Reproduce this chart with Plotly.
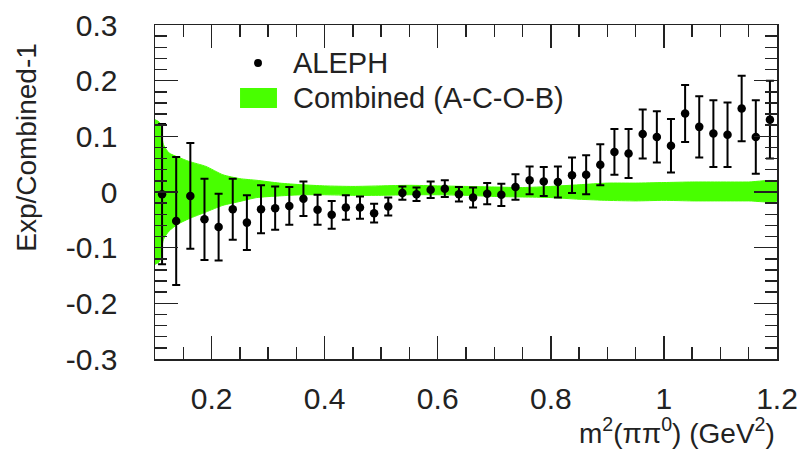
import plotly.graph_objects as go

# ALEPH data points
m2 = [0.1125, 0.1375, 0.1625, 0.1875, 0.2125, 0.2375, 0.2625, 0.2875, 0.3125, 0.3375,
      0.3625, 0.3875, 0.4125, 0.4375, 0.4625, 0.4875, 0.5125, 0.5375, 0.5625, 0.5875,
      0.6125, 0.6375, 0.6625, 0.6875, 0.7125, 0.7375, 0.7625, 0.7875, 0.8125, 0.8375,
      0.8625, 0.8875, 0.9125, 0.9375, 0.9625, 0.9875, 1.0125, 1.0375, 1.0625, 1.0875,
      1.1125, 1.1375, 1.1625, 1.1875]
aleph = [-0.004, -0.052, -0.007, -0.049, -0.063, -0.031, -0.055, -0.031, -0.029, -0.025,
         -0.012, -0.032, -0.041, -0.028, -0.028, -0.038, -0.026, -0.002, -0.004, 0.004,
         0.006, -0.004, -0.010, -0.003, -0.005, 0.009, 0.021, 0.019, 0.018, 0.030,
         0.031, 0.049, 0.072, 0.069, 0.104, 0.099, 0.083, 0.141, 0.117, 0.105,
         0.103, 0.150, 0.099, 0.130]
aleph_err = [0.126, 0.115, 0.095, 0.073, 0.060, 0.055, 0.049, 0.043, 0.039, 0.034,
             0.031, 0.027, 0.025, 0.022, 0.020, 0.017, 0.016, 0.012, 0.012, 0.015,
             0.015, 0.013, 0.018, 0.019, 0.020, 0.023, 0.025, 0.026, 0.028, 0.032,
             0.035, 0.037, 0.041, 0.044, 0.044, 0.046, 0.048, 0.051, 0.055, 0.060,
             0.058, 0.059, 0.066, 0.070]

# Combined (A-C-O-B) uncertainty band
band_x = [0.100, 0.108, 0.115, 0.125, 0.140, 0.160, 0.190, 0.220, 0.250, 0.280,
          0.320, 0.360, 0.400, 0.450, 0.500, 0.550, 0.600, 0.650, 0.700, 0.750,
          0.800, 0.850, 0.900, 0.950, 1.000, 1.050, 1.100, 1.150, 1.200]
band_hi = [0.130, 0.125, 0.085, 0.070, 0.063, 0.055, 0.046, 0.031, 0.024, 0.021,
           0.016, 0.013, 0.011, 0.010, 0.011, 0.012, 0.011, 0.010, 0.009, 0.008,
           0.010, 0.013, 0.016, 0.016, 0.017, 0.018, 0.018, 0.018, 0.019]
band_lo = [-0.130, -0.125, -0.085, -0.070, -0.058, -0.048, -0.036, -0.024, -0.017, -0.010,
           -0.007, -0.005, -0.005, -0.006, -0.006, -0.005, -0.005, -0.006, -0.008, -0.009,
           -0.010, -0.013, -0.015, -0.016, -0.015, -0.016, -0.016, -0.016, -0.016]

x_ticks = [0.2, 0.4, 0.6, 0.8, 1.0, 1.2]
x_ticklabels = ["0.2", "0.4", "0.6", "0.8", "1", "1.2"]
y_ticks = [-0.3, -0.2, -0.1, 0.0, 0.1, 0.2, 0.3]
y_ticklabels = ["-0.3", "-0.2", "-0.1", "0", "0.1", "0.2", "0.3"]

GREEN = "#48ff00"
FONT = "Liberation Sans"
TXT = "#222222"

fig = go.Figure()
fig.add_trace(go.Scatter(
    x=band_x + band_x[::-1], y=band_hi + band_lo[::-1],
    fill="toself", fillcolor=GREEN, mode="lines",
    line=dict(color=GREEN, width=1, shape="spline", smoothing=0.6),
    name="Combined (A-C-O-B)", showlegend=False, hoverinfo="skip"))
fig.add_trace(go.Scatter(
    x=m2, y=aleph, mode="markers",
    marker=dict(color="black", size=8.5),
    error_y=dict(type="data", array=aleph_err, color="black", thickness=2, width=4),
    name="ALEPH", showlegend=False))

axis_common = dict(
    showline=True, linecolor="#222222", linewidth=1.5, mirror="ticks",
    ticks="inside", tickcolor="#222222", tickwidth=1.5, ticklen=23,
    showgrid=False, zeroline=False, automargin=False,
    tickfont=dict(family=FONT, size=30, color=TXT),
)

fig.update_xaxes(range=[0.1, 1.2], tickvals=x_ticks, ticktext=x_ticklabels,
                 minor=dict(dtick=0.05, tick0=0, ticks="inside", ticklen=12,
                            tickcolor="#222222", tickwidth=1.5),
                 ticklabelstandoff=12, **axis_common)
fig.update_yaxes(range=[-0.3, 0.3], tickvals=y_ticks, ticktext=y_ticklabels,
                 minor=dict(dtick=0.02, tick0=0, ticks="inside", ticklen=12,
                            tickcolor="#222222", tickwidth=1.5),
                 ticklabelstandoff=30, **axis_common)

# axis titles
fig.add_annotation(text="m<sup>2</sup>(ππ<sup>0</sup>) (GeV<sup>2</sup>)",
                   xref="paper", yref="paper", x=1.0, y=-0.215,
                   xanchor="right", yanchor="middle", showarrow=False,
                   font=dict(family=FONT, size=28, color=TXT))
fig.add_annotation(text="Exp/Combined-1", textangle=-90,
                   xref="paper", yref="paper", x=-0.206, y=0.635,
                   xanchor="center", yanchor="middle", showarrow=False,
                   font=dict(family=FONT, size=28, color=TXT))

# legend (drawn manually)
fig.add_shape(type="circle", xref="paper", yref="paper",
              x0=0.1592, x1=0.1720, y0=0.874, y1=0.898,
              fillcolor="black", line=dict(color="black", width=0))
fig.add_annotation(text="ALEPH", xref="paper", yref="paper", x=0.219, y=0.886,
                   xanchor="left", yanchor="middle", showarrow=False,
                   font=dict(family=FONT, size=29, color=TXT))
fig.add_shape(type="rect", xref="paper", yref="paper",
              x0=0.1367, x1=0.1961, y0=0.7515, y1=0.8114,
              fillcolor=GREEN, line=dict(color=GREEN, width=0))
fig.add_annotation(text="Combined (A-C-O-B)", xref="paper", yref="paper", x=0.219, y=0.781,
                   xanchor="left", yanchor="middle", showarrow=False,
                   font=dict(family=FONT, size=29, color=TXT))

fig.update_layout(
    width=800, height=449,
    margin=dict(l=155, r=23, t=25, b=90),
    plot_bgcolor="white", paper_bgcolor="white",
    showlegend=False,
)

fig.write_html("out.html",
               config={"displayModeBar": False, "staticPlot": True},
               post_script="document.body.style.margin='0px';"
                           "document.body.style.overflow='hidden';")
